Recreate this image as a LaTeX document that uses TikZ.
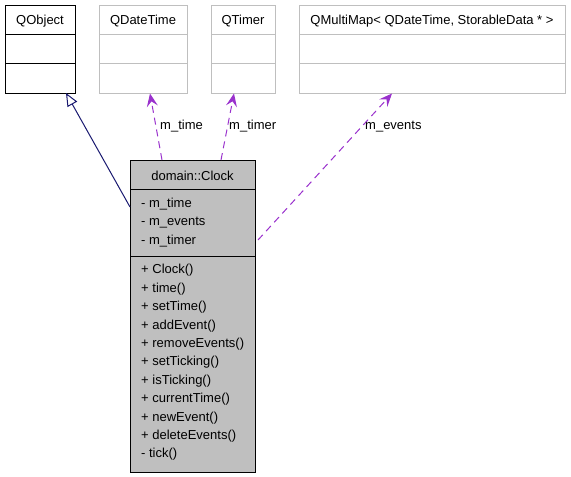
\documentclass[tikz,border=0pt]{standalone}
\usepackage{fontspec}
\setmainfont{Liberation Sans}
\usetikzlibrary{arrows.meta}
\definecolor{boxgray}{HTML}{BFBFBF}
\definecolor{lightline}{HTML}{BFBFBF}
\definecolor{assoc}{HTML}{9A32CD}
\definecolor{inherit}{HTML}{191970}
\tikzset{
  umlbox/.style={draw=black, line width=1pt, rectangle, inner sep=0pt, anchor=north west},
  extbox/.style={draw=lightline, line width=1pt, rectangle, inner sep=0pt, anchor=north west},
  txt/.style={font=\fontsize{13}{15}\selectfont, inner sep=0pt, yshift=-1.5pt},
  ltxt/.style={txt, anchor=west},
  usage/.style={draw=assoc, dashed, dash pattern=on 7pt off 5pt, line width=1pt,
    -{Stealth[length=13pt, width=11pt, inset=5pt]}},
  isa/.style={draw=inherit, line width=1pt, -{Triangle[open, length=13pt, width=11pt, fill=white]}},
}
\begin{document}
\begin{tikzpicture}[x=1pt, y=-1pt]
\useasboundingbox (0,0) rectangle (571,477);
% QObject
\node[umlbox, minimum width=70pt, minimum height=88pt] (qobj) at (5,5) {};
\node[txt] (qobjt) at (40,19.5) {QObject};
\draw[black, line width=1pt] (5,34) -- (75,34) (5,63.5) -- (75,63.5);
% QDateTime
\node[extbox, minimum width=88pt, minimum height=88pt] (qdt) at (99,5) {};
\node[txt] (qdtt) at (143,19.5) {QDateTime};
\draw[lightline, line width=1pt] (99,34) -- (187,34) (99,63.5) -- (187,63.5);
% QTimer
\node[extbox, minimum width=64pt, minimum height=88pt] (qtm) at (211,5) {};
\node[txt] (qtmt) at (243,19.5) {QTimer};
\draw[lightline, line width=1pt] (211,34) -- (275,34) (211,63.5) -- (275,63.5);
% QMultiMap
\node[extbox, minimum width=266pt, minimum height=88pt] (qmm) at (299,5) {};
\node[txt] (qmmt) at (432,19.5) {QMultiMap< QDateTime, StorableData * >};
\draw[lightline, line width=1pt] (299,34) -- (565,34) (299,63.5) -- (565,63.5);
% Clock
\node[umlbox, fill=boxgray, minimum width=125pt, minimum height=312pt] (clk) at (130,160) {};
\node[txt] (clkt) at (192.5,174.5) {domain::Clock};
\draw[black, line width=1pt] (130,189) -- (255,189) (130,256) -- (255,256);
\node[ltxt] (a1) at (141,203) {- m\_time};
\node[ltxt] (a2) at (141,221.5) {- m\_events};
\node[ltxt] (a3) at (141,240) {- m\_timer};
\node[ltxt] (m1) at (141,269) {+ Clock()};
\node[ltxt] (m2) at (141,287.4) {+ time()};
\node[ltxt] (m3) at (141,305.8) {+ setTime()};
\node[ltxt] (m4) at (141,324.2) {+ addEvent()};
\node[ltxt] (m5) at (141,342.6) {+ removeEvents()};
\node[ltxt] (m6) at (141,361) {+ setTicking()};
\node[ltxt] (m7) at (141,379.4) {+ isTicking()};
\node[ltxt] (m8) at (141,397.8) {+ currentTime()};
\node[ltxt] (m9) at (141,416.2) {+ newEvent()};
\node[ltxt] (m10) at (141,434.6) {+ deleteEvents()};
\node[ltxt] (m11) at (141,453) {- tick()};
% connectors
\coordinate (isaS) at (130,207);
\coordinate (isaT) at (66,93);
\draw[isa] (isaS) -- (isaT);
\coordinate (tS) at (162,160);
\coordinate (tT) at (150,93.5);
\draw[usage] (tS) -- (tT);
\node[ltxt] (lt) at (160,125) {m\_time};
\coordinate (rS) at (221,160);
\coordinate (rT) at (234,93.5);
\draw[usage] (rS) -- (rT);
\node[ltxt] (lr) at (229,125) {m\_timer};
\coordinate (eS) at (258,240);
\coordinate (eT) at (392,93.5);
\draw[usage] (eS) -- (eT);
\node[ltxt] (le) at (365,125) {m\_events};
\end{tikzpicture}
\end{document}
